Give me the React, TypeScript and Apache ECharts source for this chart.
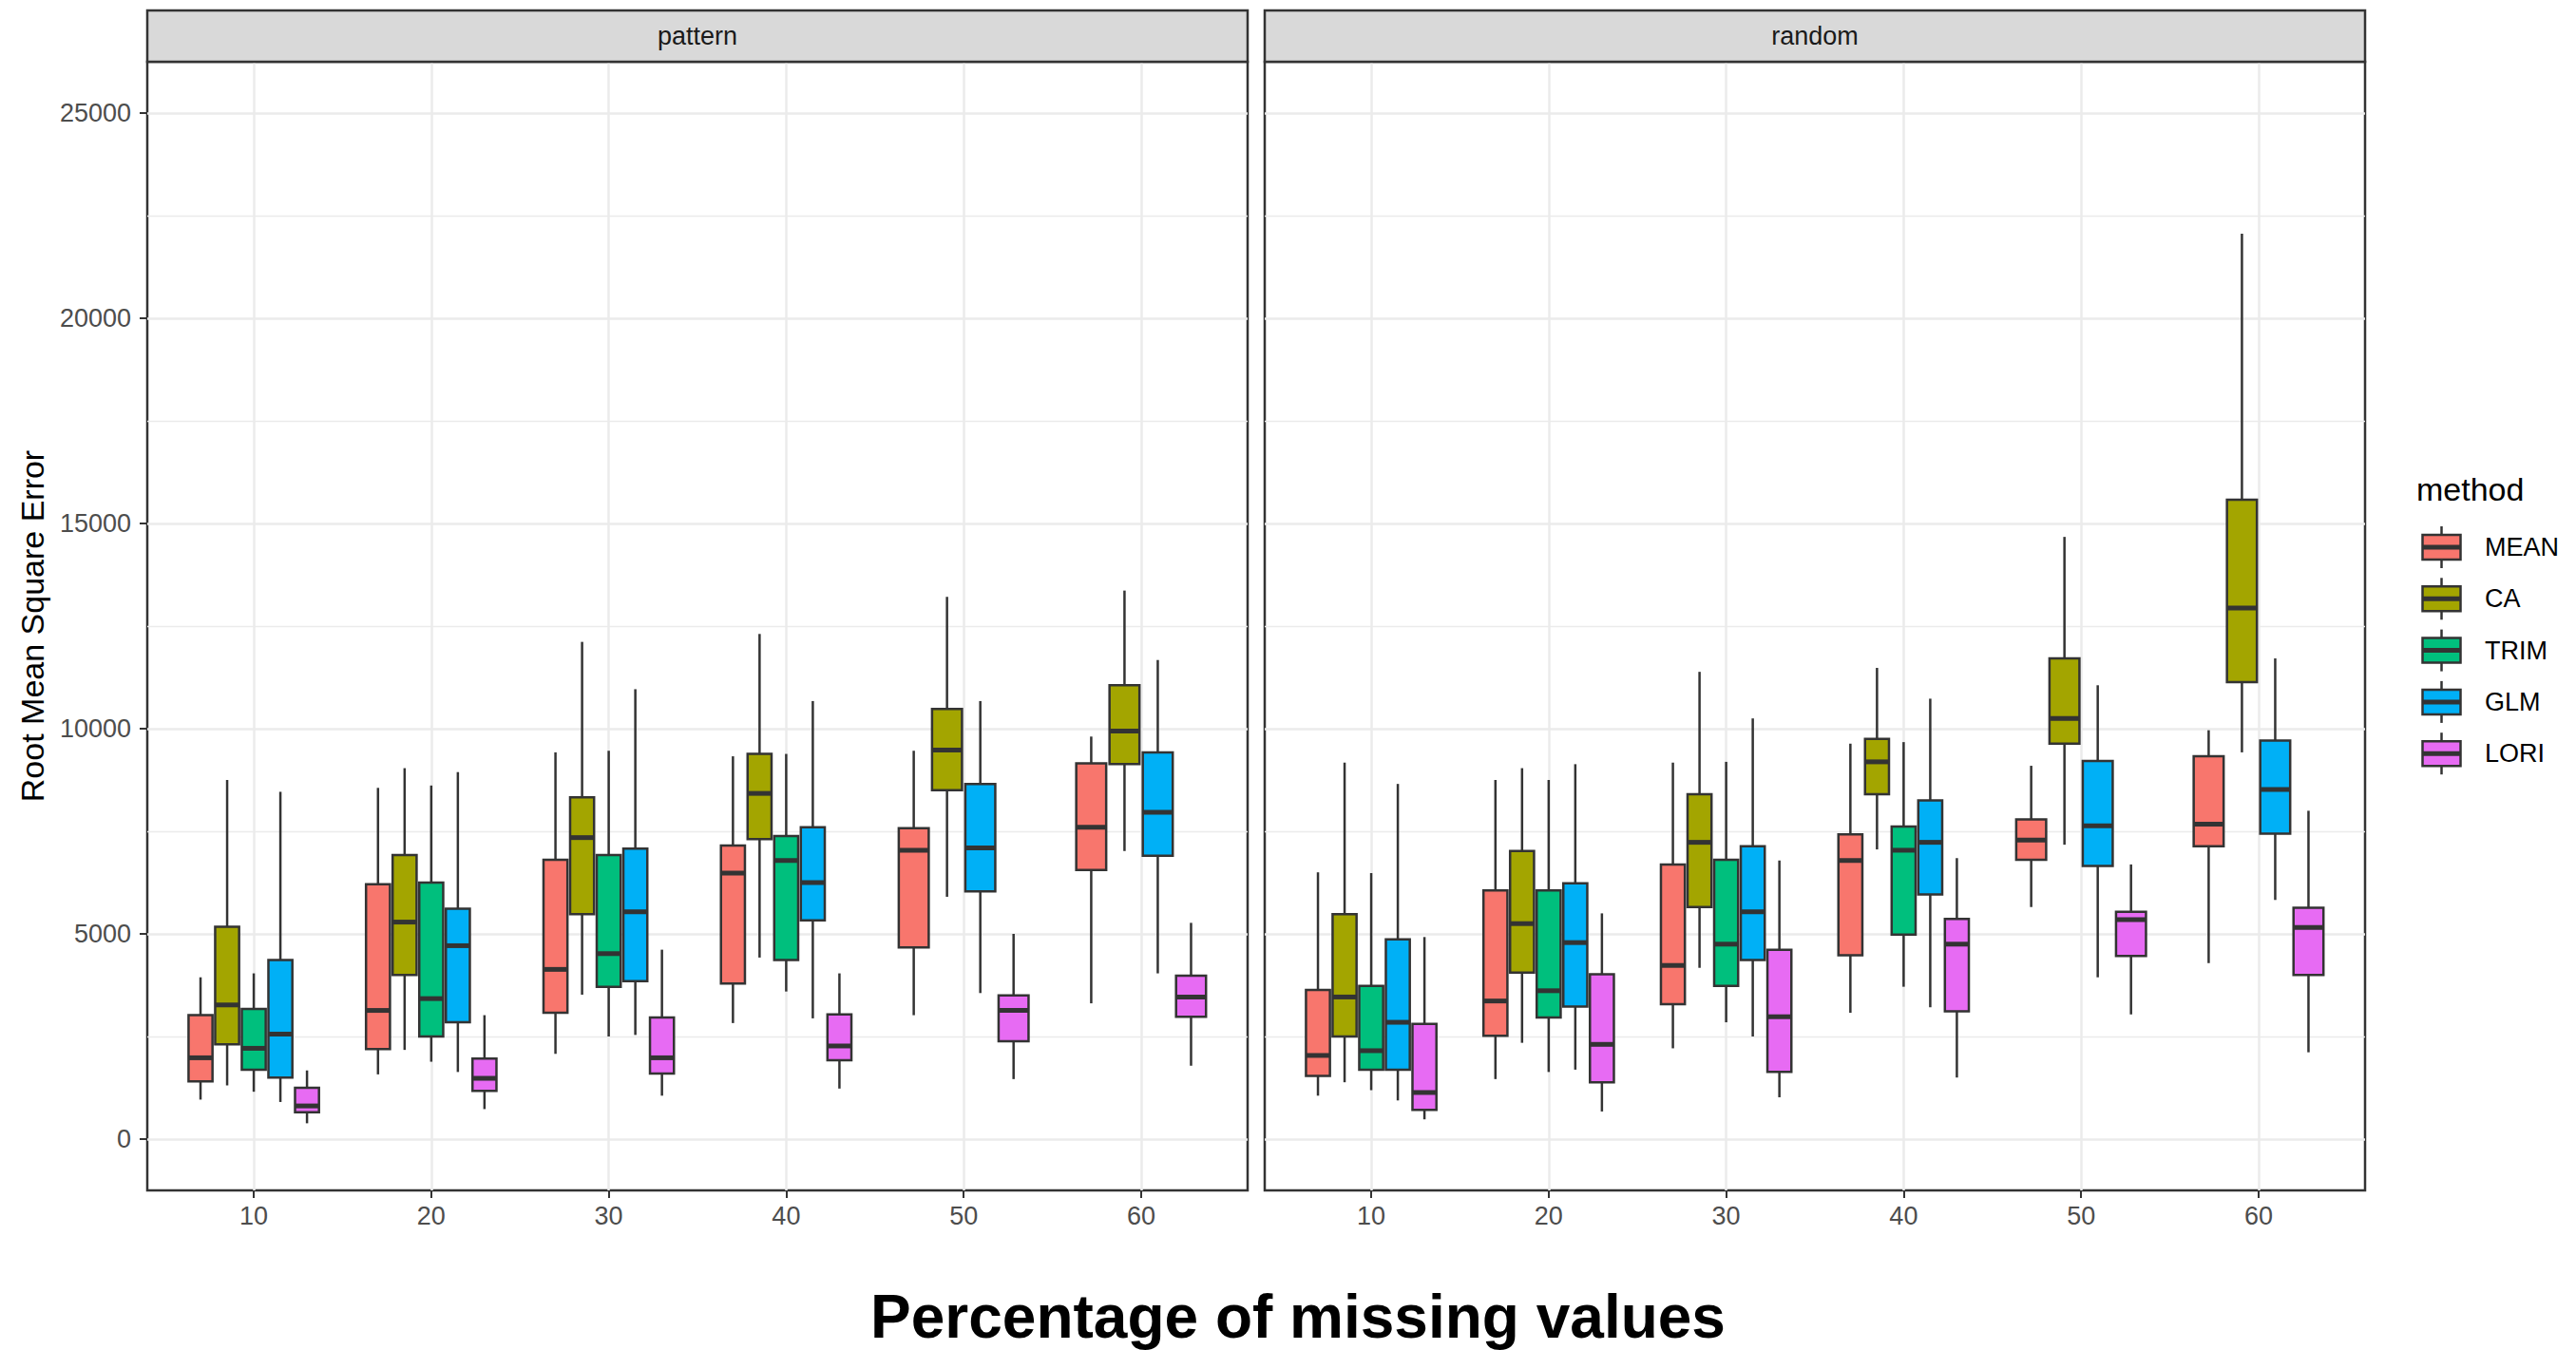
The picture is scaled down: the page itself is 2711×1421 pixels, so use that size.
import React, { useEffect, useRef } from "react";
import * as echarts from "echarts";

const categories = [10, 20, 30, 40, 50, 60];
const methods = ["MEAN", "CA", "TRIM", "GLM", "LORI"];
const methodColors = ["#F8766D", "#A3A500", "#00BF7D", "#00B0F6", "#E76BF3"];
const panels = ["pattern", "random"];
const yTicks = [0, 5000, 10000, 15000, 20000, 25000];
const yMinorTicks = [2500, 7500, 12500, 17500, 22500];

type Box = number[] | null; // [lower whisker, Q1, median, Q3, upper whisker]

// pattern panel
const patternMEAN: Box[] = [[962, 1404, 1981, 3019, 3942], [1577, 2192, 3135, 6212, 8558], [2077, 3077, 4135, 6808, 9423], [2827, 3788, 6481, 7154, 9327], [3019, 4673, 7038, 7577, 9462], [3308, 6558, 7596, 9154, 9808]];
const patternCA: Box[] = [[1308, 2308, 3269, 5173, 8750], [2173, 4000, 5288, 6923, 9038], [3519, 5481, 7346, 8327, 12115], [4423, 7308, 8423, 9385, 12308], [5904, 8500, 9481, 10481, 13212], [7019, 9135, 9942, 11058, 13365]];
const patternTRIM: Box[] = [[1154, 1692, 2212, 3173, 4038], [1885, 2500, 3423, 6250, 8615], [2500, 3712, 4519, 6923, 9462], [3596, 4365, 6788, 7385, 9385], null, null];
const patternGLM: Box[] = [[904, 1500, 2558, 4365, 8462], [1635, 2846, 4712, 5615, 8942], [2538, 3846, 5538, 7077, 10962], [2942, 5327, 6250, 7596, 10673], [3558, 6038, 7096, 8654, 10673], [4038, 6904, 7962, 9423, 11673]];
const patternLORI: Box[] = [[385, 654, 808, 1250, 1673], [731, 1173, 1481, 1962, 3019], [1058, 1596, 1981, 2962, 4615], [1231, 1923, 2269, 3038, 4038], [1462, 2385, 3135, 3500, 5000], [1788, 2981, 3462, 3981, 5269]];

// random panel
const randomMEAN: Box[] = [[1058, 1538, 2038, 3635, 6500], [1462, 2519, 3365, 6058, 8750], [2212, 3288, 4231, 6692, 9173], [3077, 4481, 6788, 7423, 9635], [5654, 6808, 7288, 7788, 9096], [4288, 7135, 7673, 9327, 9962]];
const randomCA: Box[] = [[1385, 2500, 3462, 5481, 9173], [2346, 4058, 5250, 7019, 9038], [4173, 5654, 7231, 8404, 11385], [7058, 8404, 9192, 9750, 11481], [7173, 9635, 10250, 11712, 14673], [9423, 11135, 12942, 15577, 22058]];
const randomTRIM: Box[] = [[1192, 1692, 2154, 3731, 6481], [1635, 2962, 3615, 6058, 8750], [2846, 3731, 4750, 6808, 9192], [3712, 4981, 7038, 7615, 9673], null, null];
const randomGLM: Box[] = [[942, 1692, 2846, 4865, 8654], [1692, 3231, 4788, 6231, 9135], [2500, 4365, 5538, 7135, 10250], [3212, 5962, 7231, 8250, 10731], [3942, 6654, 7635, 9212, 11058], [5827, 7442, 8519, 9712, 11712]];
const randomLORI: Box[] = [[481, 712, 1135, 2808, 4923], [673, 1385, 2308, 4019, 5500], [1019, 1635, 2981, 4615, 6788], [1500, 3115, 4750, 5365, 6846], [3038, 4462, 5346, 5538, 6692], [2115, 4000, 5154, 5635, 8000]];

const panelData: Box[][][] = [
  [patternMEAN, patternCA, patternTRIM, patternGLM, patternLORI],
  [randomMEAN, randomCA, randomTRIM, randomGLM, randomLORI],
];

const FONT = "'Liberation Sans', Arial, Helvetica, sans-serif";
const LINE = "#333333";

const GRID_TOP = 65;
const GRID_H = 1188;
const GRID_W = 1158;
const GRID_LEFTS = [155, 1331];
const Y_MIN = -1250;
const Y_MAX = 26250;
const X_MIN = 4;
const X_MAX = 66;
const DODGE_TOTAL = 7.5;

function buildOption() {
  const grids = GRID_LEFTS.map((left) => ({
    left,
    top: GRID_TOP,
    width: GRID_W,
    height: GRID_H,
    show: true,
    borderColor: LINE,
    borderWidth: 2.5,
    backgroundColor: "#ffffff",
    containLabel: false,
  }));

  const xAxes = panels.map((_, p) => ({
    type: "value",
    gridIndex: p,
    min: X_MIN,
    max: X_MAX,
    axisLine: { show: false, onZero: false },
    axisTick: { show: true, length: 8, lineStyle: { color: LINE, width: 2 }, customValues: categories },
    axisLabel: {
      show: true,
      customValues: categories,
      formatter: (v: number) => String(v),
      color: "#4D4D4D",
      fontSize: 27,
      fontFamily: FONT,
      margin: 13,
    },
    splitLine: { show: true, lineStyle: { color: "#EBEBEB", width: 2.5 } },
  }));

  const yMajor = panels.map((_, p) => ({
    type: "value",
    gridIndex: p,
    min: Y_MIN,
    max: Y_MAX,
    axisLine: { show: false, onZero: false },
    axisTick: { show: p === 0, length: 8, lineStyle: { color: LINE, width: 2 }, customValues: yTicks },
    axisLabel: {
      show: p === 0,
      customValues: yTicks,
      formatter: (v: number) => String(v),
      color: "#4D4D4D",
      fontSize: 27,
      fontFamily: FONT,
      margin: 17,
    },
    splitLine: { show: true, lineStyle: { color: "#EBEBEB", width: 2.5 } },
    z: 1,
  }));

  const yMinor = panels.map((_, p) => ({
    type: "value",
    gridIndex: p,
    min: Y_MIN,
    max: Y_MAX,
    axisLine: { show: false, onZero: false },
    axisTick: { show: false, customValues: yMinorTicks },
    axisLabel: { show: false, customValues: yMinorTicks },
    splitLine: { show: true, lineStyle: { color: "#EBEBEB", width: 1.3 } },
    z: 0,
  }));

  const series: any[] = [];
  panels.forEach((_, p) => {
    methods.forEach((m, mi) => {
      const data: number[][] = [];
      categories.forEach((cat, ci) => {
        const box = panelData[p][mi][ci];
        if (!box) return;
        const present = methods.map((_, k) => k).filter((k) => panelData[p][k][ci] !== null);
        const n = present.length;
        const slot = DODGE_TOTAL / n;
        const k = present.indexOf(mi);
        const xc = cat + (k - (n - 1) / 2) * slot;
        data.push([xc, box[0], box[1], box[2], box[3], box[4], slot * 0.9]);
      });
      const color = methodColors[mi];
      series.push({
        type: "custom",
        name: m,
        xAxisIndex: p,
        yAxisIndex: p,
        encode: { x: 0, y: [1, 5] },
        data,
        z: 5,
        renderItem: (params: any, api: any) => {
          const x = api.value(0);
          const lo = api.value(1);
          const q1 = api.value(2);
          const md = api.value(3);
          const q3 = api.value(4);
          const hi = api.value(5);
          const w = api.value(6);
          const tl = api.coord([x - w / 2, q3]);
          const br = api.coord([x + w / 2, q1]);
          const mid = api.coord([x, md]);
          const top = api.coord([x, hi]);
          const bot = api.coord([x, lo]);
          const lineStyle = { stroke: LINE, lineWidth: 2.5 };
          return {
            type: "group",
            children: [
              { type: "line", shape: { x1: mid[0], y1: top[1], x2: mid[0], y2: tl[1] }, style: lineStyle },
              { type: "line", shape: { x1: mid[0], y1: br[1], x2: mid[0], y2: bot[1] }, style: lineStyle },
              {
                type: "rect",
                shape: { x: tl[0], y: tl[1], width: br[0] - tl[0], height: br[1] - tl[1] },
                style: { fill: color, stroke: LINE, lineWidth: 2.5 },
              },
              { type: "line", shape: { x1: tl[0], y1: mid[1], x2: br[0], y2: mid[1] }, style: { stroke: LINE, lineWidth: 5 } },
            ],
          };
        },
      });
    });
  });

  const graphics: any[] = [];
  // strips
  panels.forEach((name, p) => {
    graphics.push({
      type: "rect",
      shape: { x: GRID_LEFTS[p], y: 11, width: GRID_W, height: GRID_TOP - 11 },
      style: { fill: "#D9D9D9", stroke: LINE, lineWidth: 2.5 },
      z: 10,
    });
    graphics.push({
      type: "text",
      x: GRID_LEFTS[p] + GRID_W / 2,
      y: (11 + GRID_TOP) / 2,
      style: { text: name, fill: "#1A1A1A", font: `27px ${FONT}`, textAlign: "center", textVerticalAlign: "middle" },
      z: 11,
    });
  });
  // axis titles
  graphics.push({
    type: "text",
    x: 34,
    y: GRID_TOP + GRID_H / 2,
    rotation: Math.PI / 2,
    style: { text: "Root Mean Square Error", fill: "#000000", font: `34px ${FONT}`, textAlign: "center", textVerticalAlign: "middle" },
  });
  graphics.push({
    type: "text",
    x: 1366,
    y: 1386,
    style: { text: "Percentage of missing values", fill: "#000000", font: `bold 64px ${FONT}`, textAlign: "center", textVerticalAlign: "middle" },
  });
  // legend
  graphics.push({
    type: "text",
    x: 2543,
    y: 515,
    style: { text: "method", fill: "#000000", font: `34px ${FONT}`, textAlign: "left", textVerticalAlign: "middle" },
  });
  methods.forEach((m, i) => {
    const cy = 576 + i * 54.3;
    const bx = 2549.5;
    const bw = 40;
    const cx = bx + bw / 2;
    graphics.push({ type: "line", shape: { x1: cx, y1: cy - 22, x2: cx, y2: cy + 22 }, style: { stroke: LINE, lineWidth: 2.5 } });
    graphics.push({
      type: "rect",
      shape: { x: bx, y: cy - 13, width: bw, height: 26 },
      style: { fill: methodColors[i], stroke: LINE, lineWidth: 2.5 },
    });
    graphics.push({ type: "line", shape: { x1: bx, y1: cy, x2: bx + bw, y2: cy }, style: { stroke: LINE, lineWidth: 5 } });
    graphics.push({
      type: "text",
      x: 2615,
      y: cy,
      style: { text: m, fill: "#000000", font: `27px ${FONT}`, textAlign: "left", textVerticalAlign: "middle" },
    });
  });

  return {
    animation: false,
    backgroundColor: "#ffffff",
    grid: grids,
    xAxis: xAxes,
    yAxis: [...yMajor, ...yMinor],
    series,
    graphic: graphics,
  };
}

export default function App() {
  const ref = useRef<HTMLDivElement>(null);
  useEffect(() => {
    if (!ref.current) return;
    const chart = echarts.init(ref.current, undefined, { renderer: "svg" });
    chart.setOption(buildOption() as any);
    return () => chart.dispose();
  }, []);
  return <div ref={ref} style={{ position: "fixed", left: 0, top: 0, width: 2711, height: 1421, background: "#fff" }} />;
}
